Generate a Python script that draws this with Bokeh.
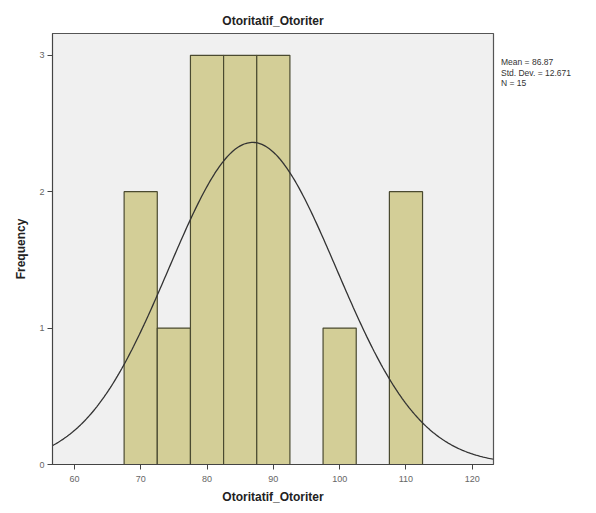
import numpy as np
from bokeh.plotting import figure
from bokeh.models import Range1d, FixedTicker, ColumnDataSource, Div
from bokeh.layouts import row
from bokeh.embed import file_html
from bokeh.resources import INLINE

bin_left = [67.5, 72.5, 77.5, 82.5, 87.5, 97.5, 107.5]
bin_right = [72.5, 77.5, 82.5, 87.5, 92.5, 102.5, 112.5]
counts = [2, 1, 3, 3, 3, 1, 2]
mean_val = 86.87
std_val = 12.671
n_val = 15
bin_width = 5
x_ticks = [60, 70, 80, 90, 100, 110, 120]
y_ticks = [0, 1, 2, 3]

FONT = "Liberation Sans"

p = figure(width=498, height=513, output_backend="svg", toolbar_location=None,
           x_range=Range1d(56.7, 123.2), y_range=Range1d(0, 3.16),
           min_border_left=52, min_border_right=5, min_border_top=33, min_border_bottom=49,
           title="Otoritatif_Otoriter")
p.background_fill_color = "#f0f0f0"
p.border_fill_color = "white"
p.outline_line_color = "#555555"
p.outline_line_width = 1.2
p.xgrid.visible = False
p.ygrid.visible = False

p.title.align = "center"
p.title.text_font = FONT
p.title.text_font_size = "12px"
p.title.text_font_style = "bold"
p.title.text_color = "#222222"
p.title.offset = 0
p.title.standoff = 12

src = ColumnDataSource(dict(left=bin_left, right=bin_right, top=counts, bottom=[0]*len(counts)))
p.quad(left="left", right="right", top="top", bottom="bottom", source=src,
       fill_color="#d3ce97", line_color="#4a4a30", line_width=1.2)

xs = np.linspace(56.7, 123.2, 300)
ys = n_val * bin_width / (std_val * np.sqrt(2 * np.pi)) * np.exp(-0.5 * ((xs - mean_val) / std_val) ** 2)
p.line(xs, ys, line_color="#333333", line_width=1.3)

for ax in (p.xaxis, p.yaxis):
    ax.axis_line_color = "#444444"
    ax.major_tick_line_color = "#444444"
    ax.major_tick_out = 5
    ax.major_tick_in = 0
    ax.minor_tick_line_color = None
    ax.major_label_text_font = FONT
    ax.major_label_text_font_size = "9px"
    ax.major_label_text_color = "#666666"
    ax.axis_label_text_font = FONT
    ax.axis_label_text_font_size = "12px"
    ax.axis_label_text_font_style = "bold"
    ax.axis_label_text_color = "#222222"

p.xaxis.ticker = FixedTicker(ticks=x_ticks)
p.yaxis.ticker = FixedTicker(ticks=y_ticks)
p.xaxis.axis_label = "Otoritatif_Otoriter"
p.yaxis.axis_label = "Frequency"
p.xaxis.major_label_standoff = 6
p.yaxis.major_label_standoff = 3
p.yaxis.axis_label_standoff = 8

stats = ["Mean = %.2f" % mean_val, "Std. Dev. = %.3f" % std_val, "N = %d" % n_val]
div = Div(text="<br>".join(stats), width=98, height=513, margin=0,
          styles={"font-family": FONT, "font-size": "8.5px", "color": "#333333",
                  "line-height": "10.5px", "padding-top": "57px", "padding-left": "3px",
                  "white-space": "nowrap"})

layout = row(p, div, spacing=0)
open("out.html", "w").write(file_html(layout, INLINE))
